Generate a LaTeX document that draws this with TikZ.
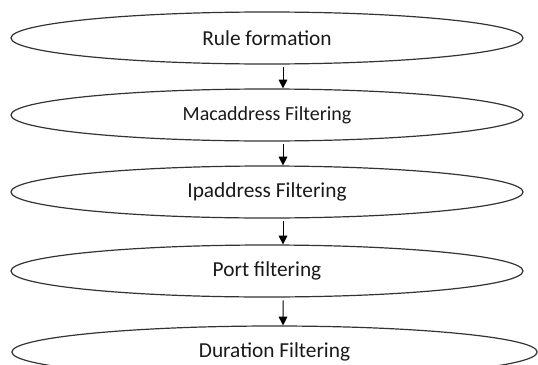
\documentclass[tikz,border=0pt]{standalone}
\usepackage{fontspec}
\setmainfont{Carlito}
\usetikzlibrary{arrows.meta,shapes.geometric,positioning}

\begin{document}
\begin{tikzpicture}[x=0.75pt,y=-0.75pt,
  stage/.style={ellipse,draw=black!80,line width=0.9pt,minimum width=384pt,minimum height=39pt,inner sep=0pt,text=black!90,font=\fontsize{16}{18}\selectfont},
  flow/.style={-{Triangle[length=6.5pt,width=6.5pt]},line width=0.75pt,black,shorten <=2pt}]
% page frame, the last ellipse runs off the bottom
\clip (0,0) rectangle (538,364);

% filtering stages
\node[stage] (rule) at (267,38) {Rule formation};
\node[stage,font=\fontsize{15}{18}\selectfont] (mac) at (267,115) {Macaddress Filtering};
\node[stage] (ip) at (267,192) {Ipaddress Filtering};
\node[stage] (port) at (267,271) {Port filtering};
\node[stage,minimum width=394pt] (dur) at (274.5,352) {Duration Filtering};

% arrows between stages
\draw[flow] ([xshift=12pt]rule.south) -- ([xshift=12pt]mac.north);
\draw[flow] ([xshift=12pt]mac.south) -- ([xshift=12pt]ip.north);
\draw[flow] ([xshift=12pt]ip.south) -- ([xshift=12pt]port.north);
\draw[flow] ([xshift=12pt]port.south) -- ([xshift=6.4pt]dur.north);
\end{tikzpicture}
\end{document}
